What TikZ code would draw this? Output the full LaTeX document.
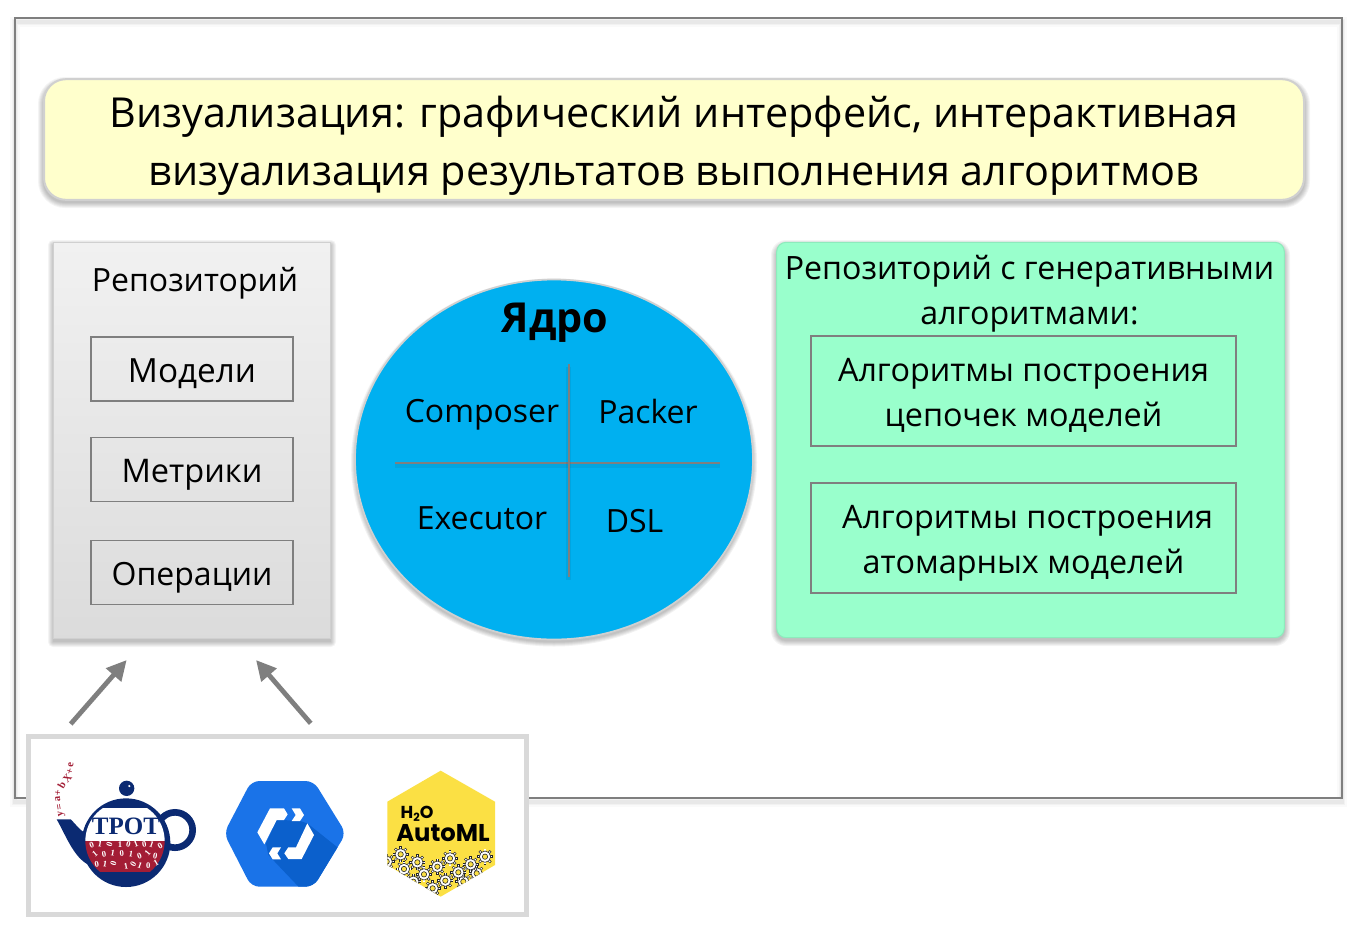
\documentclass[tikz,border=0pt]{standalone}
\usepackage{fontspec}
\setmainfont{Open Sans}
\newfontfamily\tpotfont{Liberation Serif}
\newfontfamily\hfont{Poppins}
\usetikzlibrary{arrows.meta,shapes.geometric}
\definecolor{framegray}{HTML}{7F7F7F}
\definecolor{softgray}{HTML}{D0D0D0}
\definecolor{titleyellow}{HTML}{FFFFCC}
\definecolor{coreblue}{HTML}{00B0F0}
\definecolor{mint}{HTML}{99FFCC}
\definecolor{tpotnavy}{HTML}{0B2A72}
\definecolor{tpotred}{HTML}{A31D35}
\definecolor{gblue}{HTML}{1A73E8}
\definecolor{gdark}{HTML}{0B60CC}
\definecolor{hyellow}{HTML}{FBE044}
\newcommand{\fs}[2]{\fontsize{#1}{#2}\selectfont}
\newcommand{\softbox}[5]{%
  \foreach \g in {5,4,3,2,1,0}{%
    \pgfmathsetmacro{\rr}{(#5+\g)*0.75}%
    \fill[black,opacity=.045,rounded corners=\rr pt] ({#1-\g},{#2-\g+3}) rectangle ({#3+\g},{#4+\g+3});
  }}
\newcommand{\hgear}[2]{%
  \foreach \a in {0,45,...,315}{\draw[line width=1.8pt,black!85] (#1,#2) -- ++(\a:24);}
  \foreach \a in {0,45,...,315}{\draw[line width=.9pt,white] (#1,#2) -- ++(\a:22);}
  \fill[white,draw=black!85,line width=.45pt] (#1,#2) circle (17);
  \fill[hyellow,draw=black!85,line width=.45pt] (#1,#2) circle (8);
}
\tikzset{
  x=0.75pt,y=-0.75pt,
  every node/.style={inner sep=0pt,outer sep=0pt,text=black},
  titlebox/.style={rectangle,rounded corners=16.5pt,fill=titleyellow,draw=softgray,line width=1.5pt,minimum width=945pt,minimum height=90.5pt,align=center},
  repobox/.style={rectangle,top color=black!5.5,bottom color=black!14,draw=softgray,line width=1.2pt,minimum width=207.5pt,minimum height=297pt},
  itembox/.style={rectangle,draw=framegray,line width=1.1pt,minimum width=151.5pt,minimum height=48pt,text height=19.5pt,text depth=0pt},
  corecircle/.style={ellipse,fill=coreblue,draw=softgray,line width=1.3pt,minimum width=298.5pt,minimum height=270pt},
  genbox/.style={rectangle,rounded corners=7pt,fill=mint,draw=mint!92!black,line width=.8pt,minimum width=380.7pt,minimum height=296.5pt},
  algobox/.style={rectangle,draw=framegray,line width=1.1pt,minimum width=319pt,minimum height=82.5pt,align=center,font=\fs{24.25}{33.5}},
  corelabel/.style={anchor=base,font=\fs{24}{30}},
  crossline/.style={draw=framegray,line width=1.3pt,preaction={draw=black,opacity=.06,line width=4pt,transform canvas={yshift=-2pt}}},
  flowarrow/.style={draw=framegray,line width=3.6pt,-{Triangle[length=15pt,width=14.5pt]}},
  logobox/.style={rectangle,fill=white,draw=black!15,line width=3.5pt,minimum width=373.7pt,minimum height=133.5pt},
  bit/.style={font=\tpotfont\bfseries\fs{6.5}{7},text=white},
  formula/.style={font=\tpotfont\bfseries\fs{8}{8},text=tpotred},
}
\begin{document}
\begin{tikzpicture}
\useasboundingbox (0,0) rectangle (1352,936);
\fill[white] (0,0) rectangle (1352,936);
% outer frame
\foreach \w/\o in {7/.02,5/.03,3/.04}{\draw[black,opacity=\o,line width=\w pt] (15,22) rectangle (1342,802);}
\node[rectangle,draw=framegray,line width=1.2pt,minimum width=995.25pt,minimum height=585pt] (frame) at (678.5,408) {};
% title
\softbox{43}{79}{1305}{200}{22}
\node[titlebox,font=\fs{31}{43.5}] (title) at (674,139.5) {\rule{0pt}{33.5pt}Визуализация: графический интерфейс, интерактивная\\визуализация результатов выполнения алгоритмов};
% repository
\softbox{53}{242}{331}{639}{0}
\node[repobox] (repo) at (192,440.5) {};
\node[anchor=base,font=\fs{24}{30}] (repotitle) at (195,291) {Репозиторий};
\node[itembox,font=\fs{25}{30}] (models) at (192,369) {Модели};
\node[itembox,font=\fs{24.4}{30}] (metrics) at (192,469.5) {Метрики};
\node[itembox,font=\fs{24}{30}] (ops) at (192,572.5) {Операции};
% core
\foreach \g in {4,3,2,1,0}{\fill[black,opacity=.05] (554,{459.5+3}) ellipse ({199+\g} and {180+\g});}
\node[corecircle] (core) at (554,459.5) {};
\node[anchor=base,font=\bfseries\fs{31}{36}] (coretitle) at (555,332) {Ядро};
\coordinate (vtop) at (568.7,364);
\coordinate (vbot) at (568.7,577);
\coordinate (hleft) at (395,462.7);
\coordinate (hright) at (720,462.7);
\path[crossline] (hleft) -- (hright);
\path[crossline] (vtop) -- (vbot);
\node[corelabel] (composer) at (482,422) {Composer};
\node[corelabel] (packer) at (648,423) {Packer};
\node[corelabel] (executor) at (482,529) {Executor};
\node[corelabel] (dsl) at (634.5,532) {DSL};
% generative repository
\softbox{776}{242}{1285}{638}{10}
\node[genbox] (gen) at (1030.5,440) {};
\node[anchor=center,align=center,font=\fs{24.1}{33.5}] (gentitle) at (1029.5,294) {Репозиторий с генеративными\\алгоритмами:};
\node[algobox] (chains) at (1023.5,391) {\rule{0pt}{23.5pt}Алгоритмы построения\\цепочек моделей};
\node[algobox] (atomic) at (1023.5,538) {\rule{0pt}{25pt}\hspace*{6pt}Алгоритмы построения\\атомарных моделей};
% logos box
\node[logobox] (logos) at (277.4,825.5) {};
\coordinate (a1from) at (70.7,724);
\coordinate (a1to) at (126.7,660);
\coordinate (a2from) at (310.7,723.3);
\coordinate (a2to) at (256,660);
\path[flowarrow] (a1from) -- (a1to);
\path[flowarrow] (a2from) -- (a2to);
% TPOT
\node[formula,rotate=95] (fy) at (61.7,814) {y};
\node[formula,rotate=100] (feq) at (60,807) {=};
\node[formula,rotate=95] (fa) at (57.7,799.5) {a};
\node[formula,rotate=80] (fp1) at (58.3,792.5) {+};
\node[formula,rotate=60] (fb) at (61.7,785) {b};
\node[formula,rotate=50] (fx) at (67.3,778.5) {X};
\node[formula,rotate=70] (fp2) at (70,771.5) {+};
\node[formula,rotate=85] (fe) at (71,764.5) {e};
\begin{scope}[shift={(50,755)},x=0.25pt,y=-0.25pt]
  \draw[tpotnavy,line width=5pt] (375,225) circle (53);
  \fill[tpotnavy] (20,193) -- (62,193) .. controls (80,210) and (95,235) .. (115,235) -- (130,335) .. controls (75,320) and (50,245) .. (20,193) -- cycle;
  \fill[tpotnavy] (230,100) circle (23);
  \fill[white] (238,93) circle (3.5);
  \fill[tpotnavy] (228,263) circle (133);
  \begin{scope}
    \clip (225,258) circle (119);
    \fill[white] (90,160) rectangle (360,257);
    \fill[tpotred] (90,257) rectangle (360,352);
  \end{scope}
  \node[font=\tpotfont\bfseries\fs{18.75}{19},text=tpotnavy] (tpot) at (228,214) {TPOT};
  \foreach \x/\y/\c/\r in {125/270/0/20,150/268/1/-10,178/268/0/70,210/268/1/0,235/269/0/-15,258/268/1/20,283/268/0/10,305/270/1/-20,330/272/0/30,
    135/298/1/40,162/297/0/10,188/295/1/-10,215/296/0/5,243/298/1/-10,268/302/0/20,293/295/1/50,316/302/0/-10,
    140/328/0/10,165/326/1/-10,190/325/0/70,228/334/1/10,250/328/0/60,270/332/1/-20,295/333/0/0,318/325/1/30}{
    \node[bit,rotate=\r] (bit-\x-\y) at (\x,\y) {\c};
  }
\end{scope}
% Google AutoML
\begin{scope}[shift={(220,775)},x=0.25pt,y=-0.25pt]
  \fill[gblue,rounded corners=6pt] (12,175) -- (94,18) -- (281,18) -- (378,175) -- (281,335) -- (94,335) -- cycle;
  \begin{scope}
    \clip[rounded corners=6pt] (12,175) -- (94,18) -- (281,18) -- (378,175) -- (281,335) -- (94,335) -- cycle;
    \fill[gdark] (190,135) -- (240,138) -- (262,145) -- (375,235) -- (290,345) -- (245,345) -- (145,240) -- (138,205) -- (170,135) -- cycle;
  \end{scope}
  \fill[white] (112,172) -- (150,100) -- (192,100) -- (203,118) -- (192,135) -- (170,135) -- (133,208) -- cycle;
  \fill[white] (215,100) -- (240,100) -- (252,120) -- (240,138) -- (215,138) -- (227,120) -- cycle;
  \fill[white] (262,145) -- (282,180) -- (245,252) -- (205,252) -- (193,235) -- (205,217) -- (228,217) -- cycle;
  \fill[white] (147,235) -- (158,217) -- (183,217) -- (172,235) -- (183,253) -- (158,253) -- cycle;
\end{scope}
% H2O AutoML
\begin{scope}[shift={(380,765)},x=0.25pt,y=-0.25pt]
  \fill[hyellow] (182,17) -- (345,110) -- (345,300) -- (182,395) -- (22,300) -- (22,110) -- cycle;
  \begin{scope}
    \clip (182,17) -- (345,110) -- (345,300) -- (182,395) -- (22,300) -- (22,110) -- cycle;
    \hgear{100}{350}\hgear{250}{350}\hgear{290}{325}\hgear{158}{370}
    \hgear{20}{290}\hgear{62}{268}\hgear{112}{292}\hgear{72}{312}\hgear{132}{328}\hgear{172}{305}
    \hgear{210}{280}\hgear{235}{322}\hgear{196}{347}\hgear{272}{298}\hgear{315}{275}
  \end{scope}
  \node[anchor=base west,font=\hfont\bfseries\fs{13}{14}] (hto) at (62,159) {H\raisebox{-2.5pt}{\fs{8.5}{8.5}2}O};
  \node[anchor=base,font=\hfont\bfseries\fs{18.2}{19}] (automl) at (189,228) {AutoML};
\end{scope}
\end{tikzpicture}
\end{document}
